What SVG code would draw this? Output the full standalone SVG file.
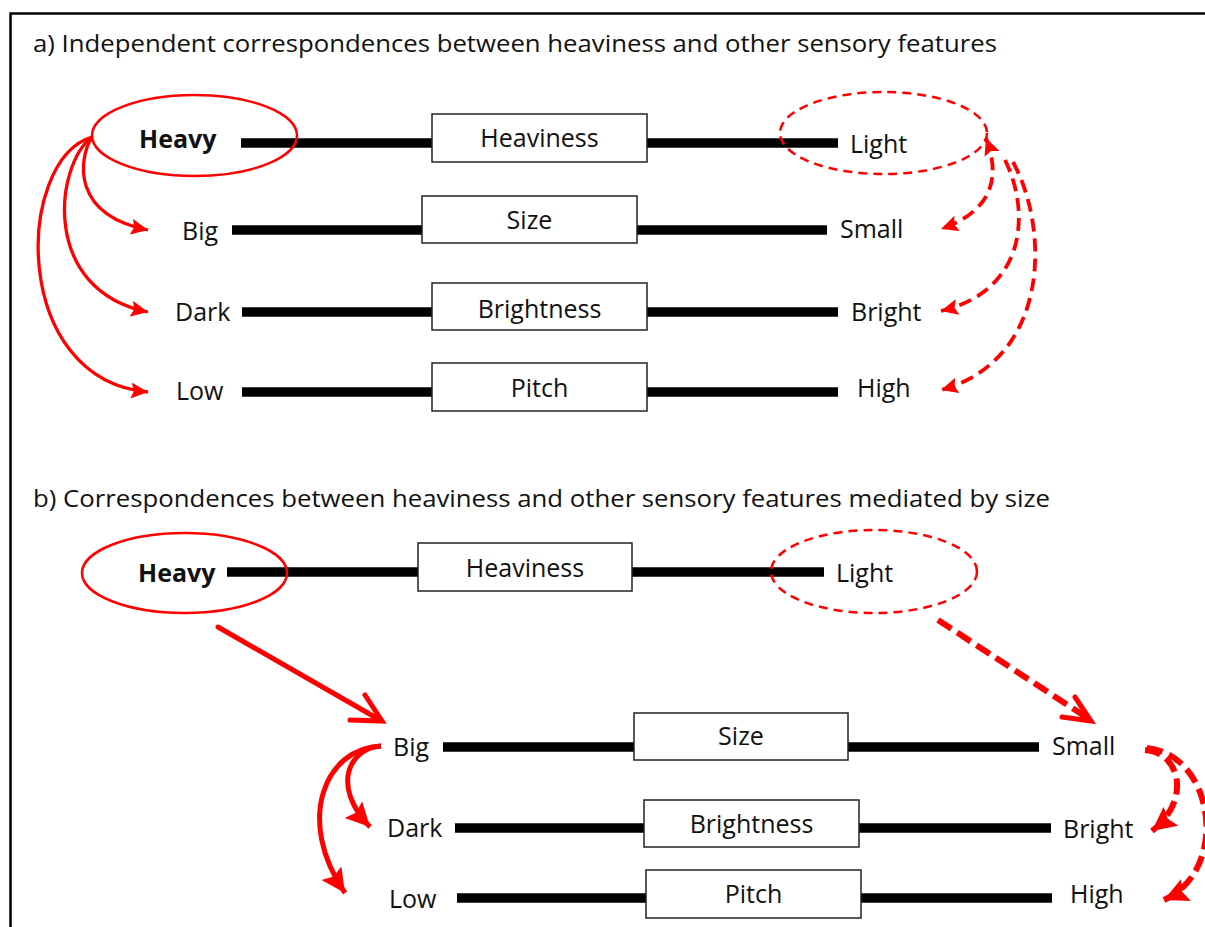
<svg xmlns="http://www.w3.org/2000/svg" width="1205" height="927" viewBox="0 0 1205 927">
  <style>
    text { font-family: "Open Sans", "Liberation Sans", sans-serif; fill: #111; }
    .title { font-size: 23px; }
    .lbl { font-size: 25px; }
    .pole { font-size: 25px; }
    .bold { font-weight: bold; }
    .mid { text-anchor: middle; }
    .bar { stroke: #000; stroke-width: 9.5; fill: none; }
    .box { fill: #fff; stroke: #222; stroke-width: 1.5; }
    .ring { fill: none; stroke: #f00; stroke-width: 2.5; }
    .ring-dash { fill: none; stroke: #f00; stroke-width: 2.5; stroke-dasharray: 9 6; }
    .arc-thin { fill: none; stroke: #f00; stroke-width: 3.3; }
    .arc-thin-dash { fill: none; stroke: #f00; stroke-width: 3.8; stroke-dasharray: 13 7; }
    .arc-thick { fill: none; stroke: #f00; stroke-width: 5; }
    .arc-thick-dash { fill: none; stroke: #f00; stroke-width: 6; stroke-dasharray: 16 7; }
    .vhead { fill: none; stroke: #f00; stroke-width: 5; stroke-linecap: round; stroke-linejoin: miter; }
  </style>
  <defs>
    <marker id="tipS" markerUnits="userSpaceOnUse" markerWidth="20" markerHeight="18" refX="17" refY="8" orient="auto-start-reverse">
      <path d="M0,0 L17,8 L0,16 L3,8 z" fill="#f00"/>
    </marker>
    <marker id="tipL" markerUnits="userSpaceOnUse" markerWidth="28" markerHeight="26" refX="24" refY="12" orient="auto">
      <path d="M0,0 L24,12 L0,24 L4,12 z" fill="#f00"/>
    </marker>
  </defs>

  <!-- frame -->
  <path d="M10.5,927 V13.5 H1205" fill="none" stroke="#000" stroke-width="2.5"/>

  <text class="title" x="33" y="52" textLength="964" lengthAdjust="spacingAndGlyphs">a) Independent correspondences between heaviness and other sensory features</text>
  <text class="title" x="33" y="507" textLength="1017" lengthAdjust="spacingAndGlyphs">b) Correspondences between heaviness and other sensory features mediated by size</text>

  <!-- panel a: scales -->
  <g id="a-heaviness">
    <line class="bar" x1="241" y1="143" x2="838" y2="143"/>
    <rect class="box" x="432" y="114" width="215" height="48"/>
    <text class="lbl mid" x="539.5" y="147">Heaviness</text>
    <text class="pole bold" x="139" y="148">Heavy</text>
    <text class="pole" x="850" y="153">Light</text>
  </g>
  <g id="a-size">
    <line class="bar" x1="232" y1="230" x2="827" y2="230"/>
    <rect class="box" x="422" y="196" width="215" height="47"/>
    <text class="lbl mid" x="529.5" y="229">Size</text>
    <text class="pole" x="182" y="240">Big</text>
    <text class="pole" x="840" y="238">Small</text>
  </g>
  <g id="a-brightness">
    <line class="bar" x1="242" y1="312" x2="838" y2="312"/>
    <rect class="box" x="432" y="283" width="215" height="47"/>
    <text class="lbl mid" x="539.5" y="318">Brightness</text>
    <text class="pole" x="175" y="321">Dark</text>
    <text class="pole" x="851" y="321">Bright</text>
  </g>
  <g id="a-pitch">
    <line class="bar" x1="242" y1="392" x2="838" y2="392"/>
    <rect class="box" x="432" y="363" width="215" height="48"/>
    <text class="lbl mid" x="539.5" y="397">Pitch</text>
    <text class="pole" x="176" y="400">Low</text>
    <text class="pole" x="857" y="397">High</text>
  </g>
  <g id="a-heavy-ring"><ellipse class="ring" cx="194.5" cy="135.5" rx="102.5" ry="40.5"/></g>
  <g id="a-light-ring"><ellipse class="ring-dash" cx="883.5" cy="133" rx="103.5" ry="41"/></g>

  <!-- panel b: scales -->
  <g id="b-heaviness">
    <line class="bar" x1="227" y1="572" x2="824" y2="572"/>
    <rect class="box" x="418" y="543" width="214" height="48"/>
    <text class="lbl mid" x="525" y="577">Heaviness</text>
    <text class="pole bold" x="138" y="582">Heavy</text>
    <text class="pole" x="836" y="582">Light</text>
  </g>
  <g id="b-size">
    <line class="bar" x1="443" y1="747" x2="1039" y2="747"/>
    <rect class="box" x="634" y="713" width="214" height="47"/>
    <text class="lbl mid" x="741" y="745">Size</text>
    <text class="pole" x="393" y="756">Big</text>
    <text class="pole" x="1052" y="755">Small</text>
  </g>
  <g id="b-brightness">
    <line class="bar" x1="455" y1="828" x2="1051" y2="828"/>
    <rect class="box" x="644" y="800" width="215" height="47"/>
    <text class="lbl mid" x="751.5" y="833">Brightness</text>
    <text class="pole" x="387" y="837">Dark</text>
    <text class="pole" x="1063" y="838">Bright</text>
  </g>
  <g id="b-pitch">
    <line class="bar" x1="457" y1="898" x2="1052" y2="898"/>
    <rect class="box" x="646" y="870" width="215" height="48"/>
    <text class="lbl mid" x="753.5" y="903">Pitch</text>
    <text class="pole" x="389" y="908">Low</text>
    <text class="pole" x="1070" y="903">High</text>
  </g>
  <g id="b-heavy-ring"><ellipse class="ring" cx="184.5" cy="573" rx="102.5" ry="40"/></g>
  <g id="b-light-ring"><ellipse class="ring-dash" cx="874" cy="571.5" rx="103" ry="41.5"/></g>

  <!-- connectors -->
  <g id="connectors">
    <!-- a: heavy to big / dark / low -->
    <path class="arc-thin" d="M92,137 C78,160 72,215 148,230" marker-end="url(#tipS)"/>
    <path class="arc-thin" d="M92,137 C55,165 40,290 148,312" marker-end="url(#tipS)"/>
    <path class="arc-thin" d="M92,137 C15,160 10,380 148,392" marker-end="url(#tipS)"/>
    <!-- a: light to small / bright / high -->
    <path class="arc-thin-dash" d="M986,138 C1000,175 995,210 941,229" marker-start="url(#tipS)" marker-end="url(#tipS)"/>
    <path class="arc-thin-dash" d="M1005,160 C1030,210 1028,290 941,311" marker-end="url(#tipS)"/>
    <path class="arc-thin-dash" d="M1013,162 C1050,230 1050,360 941,390" marker-end="url(#tipS)"/>

    <!-- b: heavy to big, light to small -->
    <line class="arc-thick" x1="218" y1="627" x2="380" y2="720" stroke-linecap="round"/>
    <path class="vhead" d="M365,695 L382,721 L350,720"/>
    <line class="arc-thick-dash" x1="938" y1="620" x2="1089" y2="719"/>
    <path class="vhead" d="M1075,697 L1091,721 L1062,717"/>

    <!-- b: big to dark / low -->
    <path class="arc-thick" d="M381,746 C350,748 330,785 370,827" marker-end="url(#tipL)"/>
    <path class="arc-thick" d="M381,746 C325,748 295,820 345,893" marker-end="url(#tipL)"/>
    <!-- b: small to bright / high -->
    <path class="arc-thick-dash" d="M1145,750 C1180,752 1192,800 1152,831" marker-end="url(#tipL)"/>
    <path class="arc-thick-dash" d="M1147,748 C1215,755 1230,870 1164,900" marker-end="url(#tipL)"/>
  </g>
</svg>
